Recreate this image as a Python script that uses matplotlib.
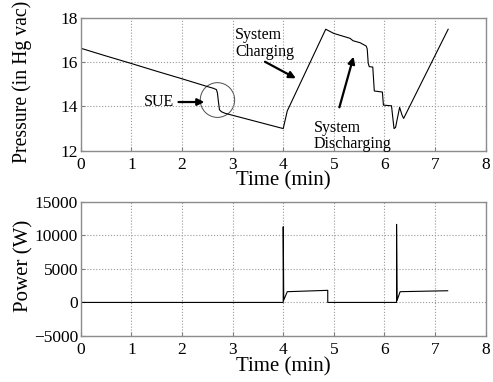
import numpy as np
import matplotlib
matplotlib.use("Agg")
import matplotlib.pyplot as plt
from matplotlib.patches import Ellipse

plt.rcParams['font.family'] = ['Liberation Serif', 'DejaVu Serif']

# pressure trace (min, in Hg vac)
t_p = [0, 0.5, 1.0, 1.5, 2.0, 2.5, 2.62, 2.68, 2.70, 2.72, 2.74, 2.78, 2.85, 3.2, 3.6, 4.0,
       4.04, 4.08, 4.84, 5.0, 5.32, 5.38, 5.52, 5.64, 5.66, 5.68, 5.70, 5.77, 5.80, 5.96,
       5.98, 6.14, 6.17, 6.19, 6.22, 6.30, 6.35, 6.38, 7.26]
p = [16.63, 16.28, 15.94, 15.59, 15.25, 14.90, 14.82, 14.76, 14.6, 14.2, 13.85, 13.76, 13.69,
     13.48, 13.24, 13.0, 13.4, 13.8, 17.49, 17.3, 17.08, 16.97, 16.88, 16.73, 16.6, 15.95,
     15.8, 15.78, 14.7, 14.65, 14.06, 14.03, 13.4, 13.0, 13.05, 13.96, 13.6, 13.46, 17.49]

# power trace (min, W)
t_w = [0, 4.0, 4.0, 4.01, 4.08, 4.88, 4.88, 6.24, 6.24, 6.25, 6.31, 7.25]
w = [0, 0, 11270, 350, 1600, 1800, 0, 0, 11630, 300, 1600, 1740]

fig = plt.figure(figsize=(4.93, 3.82), dpi=100)
ax1 = fig.add_axes([0.164, 0.6055, 0.821, 0.3475])
ax2 = fig.add_axes([0.164, 0.1204, 0.821, 0.3516])

for ax in (ax1, ax2):
    ax.grid(True, linestyle=':', color='0.6', linewidth=0.8)
    ax.tick_params(direction='in', labelsize=12.5, length=3, color='0.5')
    ax.tick_params(axis='x', pad=4.5)
    ax.tick_params(axis='y', pad=2)
    for s in ax.spines.values():
        s.set_color('0.55')
        s.set_linewidth(1.0)
    ax.set_xlim(0, 8)
    ax.set_xticks(range(9))
    ax.set_xlabel('Time (min)', fontsize=15, labelpad=-1)

ax1.plot(t_p, p, color='black', lw=0.8)
ax1.set_ylim(12, 18)
ax1.set_yticks([12, 14, 16, 18])
ax1.set_ylabel('Pressure (in Hg vac)', fontsize=14.2)
ax1.yaxis.set_label_coords(-0.121, 0.518)

arrow = dict(arrowstyle='-|>', color='black', lw=1.6, mutation_scale=10, shrinkA=0, shrinkB=0)
ax1.add_patch(Ellipse((2.70, 14.29), 0.68, 1.57, fill=False, color='0.3', lw=0.7))
ax1.text(1.24, 14.21, 'SUE', fontsize=11.5, va='center')
ax1.annotate('', xy=(2.44, 14.2), xytext=(1.93, 14.2), arrowprops=arrow)
ax1.text(3.05, 17.58, 'System\nCharging', fontsize=11.5, va='top', linespacing=1.05)
ax1.annotate('', xy=(4.25, 15.27), xytext=(3.64, 16.02), arrowprops=arrow)
ax1.text(4.61, 13.40, 'System\nDischarging', fontsize=11.5, va='top', linespacing=1.05)
ax1.annotate('', xy=(5.39, 16.25), xytext=(5.11, 13.96), arrowprops=arrow)

ax2.plot(t_w, w, color='black', lw=0.8)
ax2.set_ylim(-5000, 15000)
ax2.set_yticks([-5000, 0, 5000, 10000, 15000])
ax2.set_ylabel('Power (W)', fontsize=15)
ax2.yaxis.set_label_coords(-0.118, 0.52)

fig.savefig('out.png', dpi=100)
